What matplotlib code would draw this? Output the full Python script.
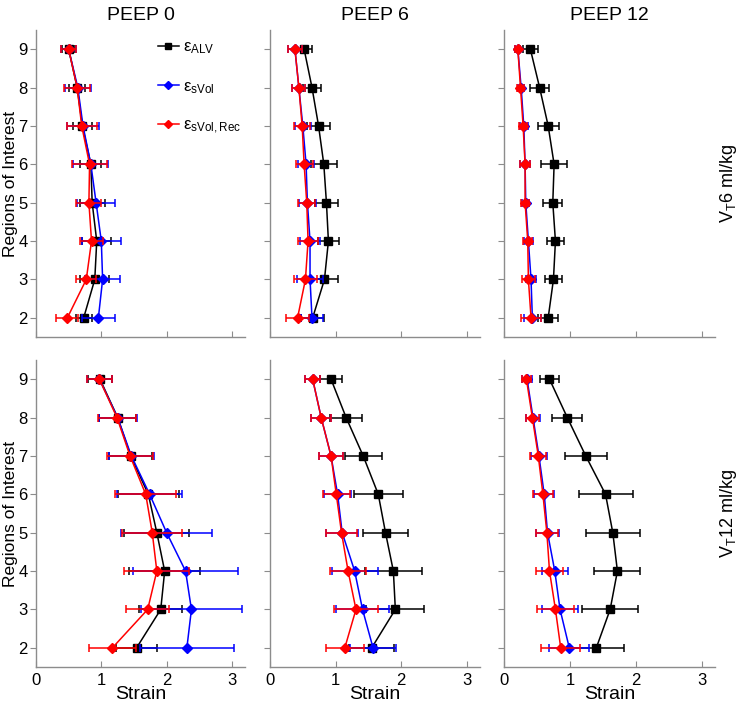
import matplotlib
matplotlib.use("Agg")
import matplotlib.pyplot as plt
import numpy as np

plt.rcParams['font.family'] = ['Liberation Sans', 'DejaVu Sans']
plt.rcParams['mathtext.default'] = 'regular'

rois = [9, 8, 7, 6, 5, 4, 3, 2]
col_titles = ["PEEP 0", "PEEP 6", "PEEP 12"]
row_labels = [r"V$_T$6 ml/kg", r"V$_T$12 ml/kg"]
legend_labels = ["ε$_{ALV}$", "ε$_{sVol}$", "ε$_{sVol,Rec}$"]
x_ticks = [0, 1, 2, 3]

# VT 6 ml/kg, PEEP 0
v6p0_alv = [0.50, 0.63, 0.71, 0.84, 0.86, 0.93, 0.90, 0.73]
v6p0_alv_err = [0.10, 0.12, 0.14, 0.16, 0.19, 0.22, 0.22, 0.12]
v6p0_svol = [0.50, 0.64, 0.72, 0.84, 0.92, 1.00, 1.02, 0.955]
v6p0_svol_err = [0.12, 0.20, 0.25, 0.27, 0.29, 0.30, 0.27, 0.25]
v6p0_rec = [0.50, 0.63, 0.70, 0.82, 0.81, 0.85, 0.77, 0.48]
v6p0_rec_err = [0.12, 0.20, 0.23, 0.27, 0.19, 0.17, 0.15, 0.17]

# VT 6 ml/kg, PEEP 6
v6p6_alv = [0.52, 0.64, 0.74, 0.82, 0.86, 0.89, 0.83, 0.65]
v6p6_alv_err = [0.12, 0.14, 0.17, 0.20, 0.17, 0.16, 0.20, 0.18]
v6p6_svol = [0.38, 0.44, 0.50, 0.55, 0.57, 0.61, 0.61, 0.64]
v6p6_svol_err = [0.10, 0.10, 0.12, 0.12, 0.13, 0.15, 0.20, 0.17]
v6p6_rec = [0.38, 0.44, 0.49, 0.52, 0.56, 0.58, 0.54, 0.42]
v6p6_rec_err = [0.10, 0.10, 0.12, 0.13, 0.13, 0.15, 0.17, 0.17]

# VT 6 ml/kg, PEEP 12
v6p12_alv = [0.40, 0.54, 0.67, 0.76, 0.74, 0.78, 0.75, 0.67]
v6p12_alv_err = [0.11, 0.145, 0.16, 0.20, 0.145, 0.13, 0.125, 0.15]
v6p12_svol = [0.21, 0.26, 0.30, 0.32, 0.33, 0.37, 0.41, 0.43]
v6p12_svol_err = [0.04, 0.05, 0.06, 0.07, 0.05, 0.07, 0.08, 0.13]
v6p12_rec = [0.21, 0.25, 0.29, 0.32, 0.32, 0.36, 0.37, 0.41]
v6p12_rec_err = [0.04, 0.05, 0.06, 0.07, 0.06, 0.07, 0.10, 0.15]

# VT 12 ml/kg, PEEP 0
v12p0_alv = [0.98, 1.25, 1.45, 1.72, 1.85, 1.97, 1.91, 1.54]
v12p0_alv_err = [0.18, 0.28, 0.33, 0.47, 0.50, 0.54, 0.33, 0.31]
v12p0_svol = [0.97, 1.25, 1.46, 1.74, 2.00, 2.29, 2.38, 2.31]
v12p0_svol_err = [0.19, 0.29, 0.34, 0.50, 0.70, 0.80, 0.78, 0.72]
v12p0_rec = [0.97, 1.24, 1.44, 1.68, 1.78, 1.85, 1.71, 1.17]
v12p0_rec_err = [0.19, 0.29, 0.35, 0.47, 0.46, 0.50, 0.33, 0.36]

# VT 12 ml/kg, PEEP 6
v12p6_alv = [0.93, 1.16, 1.42, 1.65, 1.76, 1.88, 1.91, 1.55]
v12p6_alv_err = [0.17, 0.24, 0.28, 0.37, 0.34, 0.44, 0.44, 0.34]
v12p6_svol = [0.65, 0.78, 0.93, 1.03, 1.10, 1.29, 1.41, 1.57]
v12p6_svol_err = [0.11, 0.15, 0.18, 0.21, 0.24, 0.35, 0.40, 0.35]
v12p6_rec = [0.65, 0.78, 0.93, 1.01, 1.09, 1.19, 1.31, 1.14]
v12p6_rec_err = [0.11, 0.15, 0.18, 0.21, 0.24, 0.27, 0.33, 0.29]

# VT 12 ml/kg, PEEP 12
v12p12_alv = [0.69, 0.96, 1.24, 1.54, 1.65, 1.72, 1.61, 1.40]
v12p12_alv_err = [0.14, 0.23, 0.32, 0.41, 0.41, 0.35, 0.42, 0.42]
v12p12_svol = [0.35, 0.44, 0.53, 0.61, 0.66, 0.77, 0.85, 0.99]
v12p12_svol_err = [0.07, 0.10, 0.12, 0.15, 0.17, 0.20, 0.27, 0.30]
v12p12_rec = [0.34, 0.43, 0.52, 0.59, 0.65, 0.69, 0.78, 0.86]
v12p12_rec_err = [0.07, 0.10, 0.12, 0.15, 0.17, 0.20, 0.28, 0.30]

panels = [
    [(v6p0_alv, v6p0_alv_err, v6p0_svol, v6p0_svol_err, v6p0_rec, v6p0_rec_err),
     (v6p6_alv, v6p6_alv_err, v6p6_svol, v6p6_svol_err, v6p6_rec, v6p6_rec_err),
     (v6p12_alv, v6p12_alv_err, v6p12_svol, v6p12_svol_err, v6p12_rec, v6p12_rec_err)],
    [(v12p0_alv, v12p0_alv_err, v12p0_svol, v12p0_svol_err, v12p0_rec, v12p0_rec_err),
     (v12p6_alv, v12p6_alv_err, v12p6_svol, v12p6_svol_err, v12p6_rec, v12p6_rec_err),
     (v12p12_alv, v12p12_alv_err, v12p12_svol, v12p12_svol_err, v12p12_rec, v12p12_rec_err)],
]

W, H = 750, 704
fig = plt.figure(figsize=(W / 100, H / 100), dpi=100)

col_x = [(36, 245), (270, 480), (504, 715)]
row_y = [(30, 337), (360, 667)]

styles = [("black", "s", 6.0), ("#0000ff", "D", 5.0), ("#ff0000", "D", 5.0)]
spine_col = "#8c8c8c"

for r in range(2):
    for c in range(3):
        x0, x1 = col_x[c]
        y0, y1 = row_y[r]
        ax = fig.add_axes([x0 / W, 1 - y1 / H, (x1 - x0) / W, (y1 - y0) / H])
        data = panels[r][c]
        handles = []
        for k in range(3):
            col, mk, ms = styles[k]
            vals = data[2 * k]
            errs = data[2 * k + 1]
            h = ax.errorbar(vals, rois, xerr=errs, color=col, ecolor=col,
                            marker=mk, markersize=ms, markerfacecolor=col,
                            markeredgecolor=col, linewidth=1.1, elinewidth=1.1,
                            capsize=3, capthick=1.1, zorder=2 + k)
            handles.append(h[0])
        ax.set_xlim(0, 3.2)
        ax.set_ylim(1.5, 9.5)
        ax.set_xticks(x_ticks)
        ax.set_yticks(sorted(rois))
        for side in ["top", "right"]:
            ax.spines[side].set_visible(False)
        for side in ["left", "bottom"]:
            ax.spines[side].set_color(spine_col)
            ax.spines[side].set_linewidth(1.0)
        ax.tick_params(axis="x", direction="in", length=4, color=spine_col,
                       labelsize=12, pad=4)
        ax.tick_params(axis="y", direction="out", length=4, color=spine_col,
                       labelsize=12, pad=2)
        if c != 0:
            ax.set_yticklabels([])
        else:
            ax.set_ylabel("Regions of Interest", fontsize=12.5)
            ax.yaxis.set_label_coords(-0.088, 0.5)
        if r == 0:
            ax.set_xticklabels([])
            ax.set_title(col_titles[c], fontsize=14, pad=7)
        else:
            ax.set_xlabel("Strain", fontsize=14, labelpad=-1)
        if c == 2:
            ax.text(1.065, 0.5, row_labels[r], transform=ax.transAxes, rotation=90,
                    ha="center", va="center", fontsize=13)
        if r == 0 and c == 0:
            leg = ax.legend(handles, legend_labels, loc="upper left",
                            bbox_to_anchor=(0.55, 0.99), frameon=False, fontsize=12,
                            handlelength=1.3, handletextpad=0.2, labelspacing=1.35,
                            borderaxespad=0.0, markerscale=0.8)

fig.savefig("out.png", dpi=100)
